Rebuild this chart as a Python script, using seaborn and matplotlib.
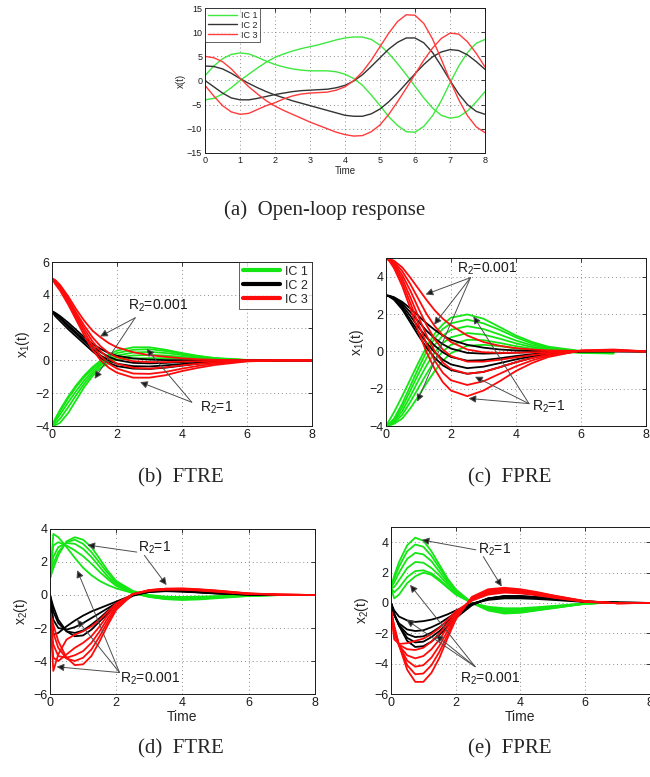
import numpy as np
import pandas as pd
import matplotlib
matplotlib.use("Agg")
import matplotlib.pyplot as plt
import seaborn as sns

# ---------------- data ----------------
# (a) open-loop response, sampled every 0.25 s
T_OL = [i * 0.25 for i in range(33)]
OL_IC1_A = [1.0, 3.0, 4.5, 5.4, 5.7, 5.5, 4.8, 4.0, 3.3, 2.8, 2.4, 2.15, 2.0, 2.0, 2.0, 1.8, 1.3,
            0.4, -1.0, -3.0, -5.2, -7.5, -9.3, -10.6, -10.7, -9.5, -7.3, -4.2, -0.5, 3.0, 5.8, 7.7, 8.5]
OL_IC1_B = [-4.0, -3.7, -2.8, -1.5, 0.0, 1.3, 2.6, 3.8, 4.8, 5.5, 6.1, 6.6, 7.0, 7.4, 7.9, 8.4, 8.8,
            9.0, 9.0, 8.5, 7.3, 5.6, 3.5, 1.2, -1.2, -3.6, -5.7, -7.2, -7.8, -7.5, -6.3, -4.4, -2.3]
OL_IC2_A = [3.0, 2.9, 2.4, 1.5, 0.4, -0.6, -1.5, -2.3, -3.0, -3.6, -4.2, -4.7, -5.2, -5.7, -6.2, -6.7, -7.2,
            -7.4, -7.4, -6.9, -5.9, -4.4, -2.6, -0.6, 1.4, 3.3, 4.9, 5.9, 6.4, 6.2, 5.3, 3.9, 2.3]
OL_IC2_B = [0.0, -1.3, -2.6, -3.6, -4.0, -4.0, -3.7, -3.3, -2.9, -2.6, -2.3, -2.1, -2.0, -1.9, -1.8, -1.5, -1.0,
            -0.1, 1.2, 2.9, 4.7, 6.5, 7.9, 8.8, 8.8, 7.8, 5.8, 3.0, 0.0, -2.8, -5.0, -6.4, -7.0]
OL_IC3_A = [5.0, 4.7, 3.9, 2.4, 0.5, -1.3, -2.8, -4.2, -5.3, -6.2, -7.0, -7.8, -8.6, -9.3, -10.0, -10.7, -11.2,
            -11.5, -11.4, -10.6, -9.2, -7.0, -4.4, -1.6, 1.3, 4.2, 6.7, 8.7, 9.8, 9.6, 8.0, 5.6, 2.8]
OL_IC3_B = [-1.0, -3.2, -5.2, -6.5, -7.0, -6.8, -6.0, -5.2, -4.6, -3.8, -3.2, -2.8, -2.6, -2.5, -2.4, -2.0, -1.3,
            0.0, 1.8, 4.2, 7.0, 9.8, 12.2, 13.6, 13.5, 11.8, 8.6, 4.4, 0.0, -4.0, -7.3, -9.6, -10.8]

# closed-loop responses (IC 1 curves stop at t = 7)
T = [0, 0.1, 0.25, 0.5, 0.75, 1, 1.25, 1.5, 1.75, 2, 2.5, 3, 3.5, 4, 4.5, 5, 6, 7, 8]

# (b) FTRE, x1
FTRE_X1_IC1 = [
    [-4, -3.55, -3.0, -2.2, -1.5, -0.9, -0.4, 0.0, 0.35, 0.6, 0.8, 0.8, 0.65, 0.45, 0.28, 0.15, 0.03, 0.0],
    [-4, -3.6, -3.1, -2.3, -1.6, -1.0, -0.5, -0.1, 0.2, 0.45, 0.65, 0.68, 0.57, 0.4, 0.25, 0.13, 0.02, 0.0],
    [-4, -3.7, -3.3, -2.55, -1.85, -1.2, -0.65, -0.2, 0.1, 0.3, 0.48, 0.52, 0.45, 0.33, 0.2, 0.1, 0.02, 0.0],
    [-4, -3.85, -3.55, -2.85, -2.1, -1.4, -0.8, -0.3, 0.0, 0.18, 0.3, 0.33, 0.3, 0.22, 0.14, 0.07, 0.01, 0.0],
    [-4, -3.95, -3.8, -3.2, -2.4, -1.6, -0.95, -0.45, -0.15, 0.05, 0.12, 0.14, 0.13, 0.1, 0.06, 0.03, 0.0, 0.0],
]
FTRE_X1_IC2 = [
    [3, 2.9, 2.7, 2.3, 1.85, 1.4, 1.0, 0.7, 0.45, 0.28, 0.12, 0.05, 0.02, 0.01, 0, 0, 0, 0, 0],
    [3, 2.85, 2.6, 2.15, 1.7, 1.25, 0.85, 0.5, 0.22, 0.02, -0.15, -0.18, -0.15, -0.1, -0.06, -0.03, 0, 0, 0],
    [3, 2.8, 2.55, 2.05, 1.6, 1.15, 0.7, 0.3, 0.0, -0.2, -0.35, -0.37, -0.3, -0.22, -0.14, -0.08, -0.01, 0, 0],
    [3, 2.7, 2.4, 1.9, 1.45, 1.0, 0.55, 0.15, -0.15, -0.35, -0.5, -0.52, -0.44, -0.32, -0.2, -0.12, -0.02, 0, 0],
]
FTRE_X1_IC3 = [
    [5, 4.9, 4.6, 3.9, 3.1, 2.4, 1.8, 1.4, 1.05, 0.8, 0.5, 0.32, 0.22, 0.13, 0.07, 0.04, 0.01, 0, 0],
    [5, 4.85, 4.5, 3.75, 2.9, 2.1, 1.4, 0.85, 0.45, 0.2, -0.05, -0.1, -0.1, -0.07, -0.05, -0.03, 0, 0, 0],
    [5, 4.8, 4.45, 3.65, 2.75, 1.9, 1.15, 0.55, 0.1, -0.2, -0.45, -0.5, -0.42, -0.3, -0.2, -0.12, -0.02, 0, 0],
    [5, 4.75, 4.4, 3.55, 2.6, 1.7, 0.9, 0.25, -0.2, -0.5, -0.8, -0.82, -0.7, -0.5, -0.33, -0.2, -0.04, 0, 0],
    [5, 4.65, 4.25, 3.4, 2.45, 1.5, 0.65, 0.0, -0.45, -0.75, -1.05, -1.05, -0.9, -0.65, -0.45, -0.28, -0.06, 0, 0],
]

# (c) FPRE, x1
FPRE_X1_IC1 = [
    [-4, -3.7, -3.25, -2.4, -1.5, -0.6, 0.25, 0.95, 1.45, 1.8, 1.98, 1.75, 1.3, 0.85, 0.5, 0.25, 0.02, -0.05],
    [-4, -3.88, -3.6, -2.8, -1.85, -0.9, 0.0, 0.7, 1.2, 1.5, 1.7, 1.5, 1.15, 0.75, 0.42, 0.2, 0.0, -0.05],
    [-4, -3.9, -3.68, -3.0, -2.1, -1.2, -0.35, 0.35, 0.85, 1.15, 1.35, 1.2, 0.9, 0.58, 0.32, 0.15, -0.02, -0.06],
    [-4, -3.93, -3.75, -3.2, -2.4, -1.55, -0.75, -0.05, 0.45, 0.75, 0.98, 0.9, 0.68, 0.43, 0.23, 0.1, -0.04, -0.08],
    [-4, -3.95, -3.82, -3.4, -2.7, -1.95, -1.2, -0.5, 0.0, 0.35, 0.62, 0.6, 0.45, 0.28, 0.14, 0.05, -0.06, -0.1],
    [-4, -3.97, -3.88, -3.6, -3.05, -2.4, -1.7, -1.05, -0.5, -0.1, 0.3, 0.35, 0.28, 0.16, 0.06, 0.0, -0.08, -0.12],
]
FPRE_X1_IC2 = [
    [3, 2.98, 2.9, 2.65, 2.3, 1.9, 1.5, 1.15, 0.85, 0.62, 0.35, 0.2, 0.1, 0.05, 0.02, 0.01, 0, 0, 0],
    [3, 2.97, 2.87, 2.55, 2.1, 1.6, 1.1, 0.7, 0.38, 0.15, -0.08, -0.12, -0.1, -0.07, -0.04, -0.02, 0, 0, 0],
    [3, 2.96, 2.84, 2.45, 1.9, 1.3, 0.75, 0.3, -0.05, -0.3, -0.5, -0.47, -0.37, -0.25, -0.15, -0.08, 0, 0.01, 0],
    [3, 2.95, 2.8, 2.35, 1.7, 1.05, 0.45, -0.05, -0.45, -0.7, -0.9, -0.82, -0.63, -0.43, -0.26, -0.13, 0.01, 0.02, 0],
    [3, 2.94, 2.76, 2.25, 1.55, 0.85, 0.2, -0.35, -0.75, -1.0, -1.2, -1.1, -0.85, -0.58, -0.35, -0.18, 0.01, 0.03, 0],
]
FPRE_X1_IC3 = [
    [5, 4.97, 4.85, 4.5, 3.95, 3.35, 2.75, 2.2, 1.75, 1.4, 0.85, 0.5, 0.3, 0.17, 0.1, 0.05, 0.02, 0.01, 0],
    [5, 4.95, 4.8, 4.3, 3.6, 2.8, 2.0, 1.35, 0.85, 0.5, 0.1, -0.05, -0.08, -0.07, -0.05, -0.03, 0.0, 0.02, 0],
    [5, 4.93, 4.72, 4.1, 3.25, 2.3, 1.4, 0.65, 0.1, -0.25, -0.55, -0.55, -0.45, -0.32, -0.2, -0.1, 0.02, 0.04, 0],
    [5, 4.9, 4.65, 3.9, 2.9, 1.85, 0.85, 0.0, -0.6, -0.95, -1.2, -1.1, -0.85, -0.58, -0.35, -0.18, 0.03, 0.06, 0],
    [5, 4.88, 4.55, 3.7, 2.6, 1.45, 0.4, -0.5, -1.15, -1.55, -1.8, -1.6, -1.2, -0.8, -0.48, -0.24, 0.04, 0.08, 0],
    [5, 4.85, 4.45, 3.5, 2.3, 1.05, -0.05, -0.95, -1.65, -2.1, -2.4, -2.1, -1.6, -1.05, -0.62, -0.3, 0.05, 0.1, 0],
]

# (d) FTRE, x2
FTRE_X2_IC1 = [
    [1, 1.6, 2.4, 3.25, 3.5, 3.35, 2.9, 2.2, 1.45, 0.85, 0.25, 0.0, -0.1, -0.12, -0.1, -0.07, -0.02, 0],
    [1, 1.9, 2.6, 3.2, 3.35, 3.1, 2.6, 1.95, 1.3, 0.75, 0.2, -0.05, -0.15, -0.17, -0.14, -0.1, -0.03, 0],
    [1, 2.3, 2.9, 3.15, 3.1, 2.8, 2.3, 1.7, 1.1, 0.65, 0.15, -0.1, -0.2, -0.22, -0.18, -0.13, -0.04, 0],
    [1, 3.0, 3.2, 3.0, 2.7, 2.35, 1.9, 1.4, 0.95, 0.55, 0.1, -0.12, -0.25, -0.27, -0.22, -0.16, -0.05, 0],
    [1, 3.7, 3.5, 2.9, 2.25, 1.65, 1.2, 0.85, 0.6, 0.4, 0.12, -0.1, -0.25, -0.3, -0.27, -0.2, -0.06, 0],
]
FTRE_X2_IC2 = [
    [0, -0.7, -1.5, -2.2, -2.5, -2.45, -2.1, -1.6, -1.1, -0.65, -0.05, 0.2, 0.28, 0.25, 0.18, 0.12, 0.03, 0, 0],
    [0, -1.0, -1.7, -2.2, -2.3, -2.15, -1.8, -1.4, -0.95, -0.55, 0.0, 0.22, 0.27, 0.24, 0.17, 0.11, 0.03, 0, 0],
    [0, -1.5, -2.0, -2.1, -1.95, -1.7, -1.4, -1.1, -0.8, -0.5, 0.0, 0.2, 0.25, 0.22, 0.16, 0.1, 0.02, 0, 0],
    [0, -2.4, -2.3, -1.9, -1.55, -1.25, -1.0, -0.8, -0.6, -0.4, 0.0, 0.18, 0.23, 0.2, 0.15, 0.09, 0.02, 0, 0],
]
FTRE_X2_IC3 = [
    [-1, -1.8, -2.8, -3.8, -4.25, -4.2, -3.7, -2.8, -1.8, -0.9, 0.05, 0.3, 0.38, 0.4, 0.35, 0.28, 0.1, 0.02, 0],
    [-1, -2.3, -3.2, -3.85, -4.0, -3.8, -3.3, -2.5, -1.6, -0.8, 0.05, 0.3, 0.38, 0.38, 0.33, 0.26, 0.09, 0.02, 0],
    [-1, -3.0, -3.7, -3.8, -3.65, -3.4, -2.9, -2.2, -1.4, -0.7, 0.05, 0.28, 0.36, 0.36, 0.31, 0.24, 0.08, 0.02, 0],
    [-1, -3.8, -4.0, -3.6, -3.2, -2.9, -2.5, -1.9, -1.2, -0.6, 0.05, 0.27, 0.34, 0.34, 0.29, 0.22, 0.07, 0.02, 0],
    [-1, -4.6, -3.6, -2.7, -2.4, -2.2, -1.9, -1.5, -1.0, -0.5, 0.05, 0.25, 0.32, 0.32, 0.27, 0.2, 0.06, 0.02, 0],
]

# (e) FPRE, x2
FPRE_X2_IC1 = [
    [1, 1.8, 2.7, 3.8, 4.3, 4.1, 3.4, 2.5, 1.6, 0.9, 0.0, -0.5, -0.7, -0.65, -0.5, -0.35, -0.05, 0.05],
    [1, 1.6, 2.4, 3.4, 3.85, 3.7, 3.1, 2.3, 1.5, 0.85, 0.0, -0.45, -0.62, -0.6, -0.47, -0.33, -0.05, 0.05],
    [1, 1.35, 2.0, 2.9, 3.3, 3.2, 2.75, 2.05, 1.35, 0.8, 0.0, -0.4, -0.55, -0.53, -0.42, -0.3, -0.05, 0.04],
    [1, 1.05, 1.5, 2.3, 2.7, 2.65, 2.3, 1.8, 1.2, 0.7, 0.0, -0.35, -0.48, -0.46, -0.37, -0.27, -0.04, 0.04],
    [1, 0.7, 1.0, 1.7, 2.1, 2.15, 1.95, 1.55, 1.05, 0.6, 0.0, -0.3, -0.4, -0.4, -0.32, -0.23, -0.04, 0.03],
    [1, 0.3, 0.55, 1.3, 1.75, 2.0, 1.85, 1.45, 1.0, 0.55, 0.0, -0.25, -0.35, -0.35, -0.28, -0.2, -0.03, 0.03],
]
FPRE_X2_IC2 = [
    [0, -0.7, -1.5, -2.5, -2.9, -2.85, -2.55, -2.1, -1.55, -1.0, -0.15, 0.3, 0.45, 0.45, 0.38, 0.3, 0.1, 0.02, 0],
    [0, -0.75, -1.5, -2.3, -2.6, -2.55, -2.25, -1.85, -1.35, -0.9, -0.1, 0.3, 0.45, 0.45, 0.38, 0.3, 0.1, 0.02, 0],
    [0, -0.8, -1.45, -2.05, -2.25, -2.2, -1.95, -1.6, -1.2, -0.8, -0.1, 0.28, 0.42, 0.42, 0.36, 0.28, 0.09, 0.02, 0],
    [0, -0.8, -1.35, -1.75, -1.85, -1.8, -1.6, -1.35, -1.0, -0.65, -0.05, 0.25, 0.38, 0.38, 0.32, 0.25, 0.08, 0.02, 0],
    [0, -0.5, -0.9, -1.15, -1.25, -1.2, -1.1, -0.95, -0.75, -0.5, -0.05, 0.2, 0.3, 0.3, 0.26, 0.2, 0.06, 0.01, 0],
]
FPRE_X2_IC3 = [
    [-0.5, -1.5, -2.8, -4.4, -5.2, -5.2, -4.6, -3.6, -2.3, -1.1, 0.4, 0.9, 1.0, 0.9, 0.72, 0.5, 0.12, -0.02, 0],
    [-0.5, -1.6, -2.8, -4.1, -4.7, -4.65, -4.1, -3.2, -2.1, -1.0, 0.35, 0.85, 0.95, 0.85, 0.68, 0.48, 0.11, -0.02, 0],
    [-0.5, -1.7, -2.8, -3.8, -4.2, -4.1, -3.6, -2.8, -1.85, -0.9, 0.3, 0.78, 0.9, 0.8, 0.64, 0.45, 0.1, -0.02, 0],
    [-0.5, -1.85, -2.8, -3.45, -3.65, -3.5, -3.05, -2.4, -1.6, -0.8, 0.25, 0.7, 0.82, 0.75, 0.6, 0.42, 0.09, -0.02, 0],
    [-0.5, -2.1, -2.75, -3.05, -3.1, -2.95, -2.55, -2.0, -1.35, -0.7, 0.2, 0.62, 0.75, 0.7, 0.55, 0.38, 0.08, -0.02, 0],
    [-0.5, -2.4, -2.7, -2.65, -2.5, -2.35, -2.05, -1.65, -1.1, -0.55, 0.15, 0.55, 0.68, 0.63, 0.5, 0.35, 0.07, -0.02, 0],
]

IC_NAMES = ["IC 1", "IC 2", "IC 3"]
COLORS = {"IC 1": "#14e614", "IC 2": "#000000", "IC 3": "#ff0a0a"}
COLORS_OL = {"IC 1": "#3ee83e", "IC 2": "#333333", "IC 3": "#ff3b3b"}


def family_frame(families, tgrid):
    rows = []
    for ic, curves in zip(IC_NAMES, families):
        for k, vals in enumerate(curves):
            for t, v in zip(tgrid, vals):
                rows.append((t, v, ic, f"{ic}-{k}"))
    return pd.DataFrame(rows, columns=["t", "v", "ic", "curve"])


sns.set_theme(style="white")
plt.rcParams["font.family"] = ["Liberation Sans", "DejaVu Sans"]
plt.rcParams["mathtext.default"] = "regular"
plt.rcParams["axes.unicode_minus"] = True

fig = plt.figure(figsize=(6.5, 7.77), dpi=100)


def style_axes(ax, xlim, ylim, yticks, xstep, fs):
    ax.set_xlim(*xlim)
    ax.set_ylim(*ylim)
    ax.set_xticks(np.arange(xlim[0], xlim[1] + 0.01, xstep))
    ax.set_yticks(yticks)
    ax.grid(True, linestyle=(0, (1, 3)), color="0.55", linewidth=0.7)
    ax.tick_params(direction="in", top=True, right=True, labelsize=fs, length=3, width=0.6, pad=2, colors="k")
    for s in ax.spines.values():
        s.set_color("k")
        s.set_linewidth(0.7)
    ax.set_xlabel("")
    ax.set_ylabel("")


# ---------- (a) open loop ----------
ax_a = fig.add_axes([0.3154, 0.8031, 0.4308, 0.1866])
ol_frame = family_frame([[OL_IC1_A, OL_IC1_B], [OL_IC2_A, OL_IC2_B], [OL_IC3_A, OL_IC3_B]], T_OL)
sns.lineplot(data=ol_frame, x="t", y="v", hue="ic", units="curve", estimator=None,
             palette=COLORS_OL, hue_order=IC_NAMES, lw=1.0, ax=ax_a, legend=False)
style_axes(ax_a, (0, 8), (-15, 15), np.arange(-15, 16, 5), 1, 6.5)
ax_a.set_ylabel("x(t)", fontsize=7, labelpad=1)
ax_a.set_xlabel("Time", fontsize=7, labelpad=1)
handles = [plt.Line2D([], [], color=COLORS_OL[n], lw=1.0) for n in IC_NAMES]
leg = ax_a.legend(handles, IC_NAMES, loc="upper left", fontsize=6.5, frameon=True, fancybox=False,
                  borderpad=0.3, labelspacing=0.1, handlelength=3.2, handletextpad=0.5,
                  borderaxespad=0.0)
leg.get_frame().set_edgecolor("k")
leg.get_frame().set_linewidth(0.6)


def closed_panel(rect, families, ylim, yticks, ylabel, xlabel):
    ax = fig.add_axes(rect)
    frame = family_frame(families, T)
    sns.lineplot(data=frame, x="t", y="v", hue="ic", units="curve", estimator=None,
                 palette=COLORS, hue_order=IC_NAMES, lw=1.3, ax=ax, legend=False)
    style_axes(ax, (0, 8), ylim, yticks, 2, 9)
    ax.set_ylabel(ylabel, fontsize=10, labelpad=2)
    if xlabel:
        ax.set_xlabel(xlabel, fontsize=10, labelpad=1)
    return ax


def annotate(ax, label, pos, arrows):
    ax.text(pos[0], pos[1], label, fontsize=10, ha="left", va="center", color="k")
    for start, tip in arrows:
        ax.annotate("", xy=tip, xytext=start,
                    arrowprops=dict(arrowstyle="-|>", color="0.3", fc="k", ec="0.3",
                                    lw=0.7, mutation_scale=11, shrinkA=0, shrinkB=0))


ax_b = closed_panel([0.08, 0.4517, 0.40, 0.2111], [FTRE_X1_IC1, FTRE_X1_IC2, FTRE_X1_IC3],
                    (-4, 6), np.arange(-4, 7, 2), "x$_1$(t)", None)
handles = [plt.Line2D([], [], color=COLORS[n], lw=3) for n in IC_NAMES]
leg = ax_b.legend(handles, IC_NAMES, loc="upper right", fontsize=9, frameon=True, fancybox=False,
                  borderpad=0.3, labelspacing=0.15, handlelength=3.0, handletextpad=0.4,
                  borderaxespad=0.0)
leg.get_frame().set_edgecolor("k")
leg.get_frame().set_linewidth(0.6)
annotate(ax_b, "R$_2$=0.001", (2.35, 3.35), [((2.56, 2.6), (1.48, 1.46)), ((2.56, 2.6), (1.31, -1.12))])
annotate(ax_b, "R$_2$=1", (4.55, -2.9), [((4.3, -2.55), (2.91, 0.71)), ((4.3, -2.55), (2.71, -1.32))])

ax_c = closed_panel([0.5938, 0.4517, 0.40, 0.2162], [FPRE_X1_IC1, FPRE_X1_IC2, FPRE_X1_IC3],
                    (-4, 5), np.arange(-4, 5, 2), "x$_1$(t)", None)
annotate(ax_c, "R$_2$=0.001", (2.2, 4.43), [((2.6, 3.95), (1.22, 3.05)), ((2.6, 3.95), (1.48, 1.43)),
                                            ((2.6, 3.95), (0.96, -2.69))])
annotate(ax_c, "R$_2$=1", (4.49, -2.97), [((4.4, -2.8), (2.69, 1.88)), ((4.4, -2.8), (2.74, -1.36)),
                                          ((4.4, -2.8), (2.54, -2.52))])

ax_d = closed_panel([0.0769, 0.1068, 0.4077, 0.2124], [FTRE_X2_IC1, FTRE_X2_IC2, FTRE_X2_IC3],
                    (-6, 4), np.arange(-6, 5, 2), "x$_2$(t)", "Time")
annotate(ax_d, "R$_2$=1", (2.67, 2.83), [((2.62, 2.6), (1.13, 3.03)), ((2.85, 2.4), (3.52, 0.6))])
annotate(ax_d, "R$_2$=0.001", (2.11, -5.05), [((2.1, -4.7), (0.82, 1.5)), ((2.1, -4.7), (0.82, -1.5)),
                                              ((2.1, -4.7), (0.2, -4.35))])

ax_e = closed_panel([0.6015, 0.1068, 0.3985, 0.2149], [FPRE_X2_IC1, FPRE_X2_IC2, FPRE_X2_IC3],
                    (-6, 5), np.arange(-6, 5, 2), "x$_2$(t)", "Time")
annotate(ax_e, "R$_2$=1", (2.7, 3.5), [((2.62, 3.5), (0.95, 4.15)), ((2.85, 3.05), (3.42, 1.08))])
annotate(ax_e, "R$_2$=0.001", (2.13, -4.97), [((2.6, -4.2), (0.59, 1.19)), ((2.6, -4.2), (0.48, -1.12)),
                                              ((2.6, -4.2), (1.38, -2.1))])

# captions
cap = dict(fontsize=15, ha="center", va="center", family=["Liberation Serif", "DejaVu Serif"])
fig.text(325 / 650, 1 - 210 / 777, "(a)  Open-loop response", **cap)
fig.text(181 / 650, 1 - 478 / 777, "(b)  FTRE", **cap)
fig.text(510 / 650, 1 - 478 / 777, "(c)  FPRE", **cap)
fig.text(181 / 650, 1 - 749 / 777, "(d)  FTRE", **cap)
fig.text(510 / 650, 1 - 749 / 777, "(e)  FPRE", **cap)

fig.savefig("out.png", dpi=100)
